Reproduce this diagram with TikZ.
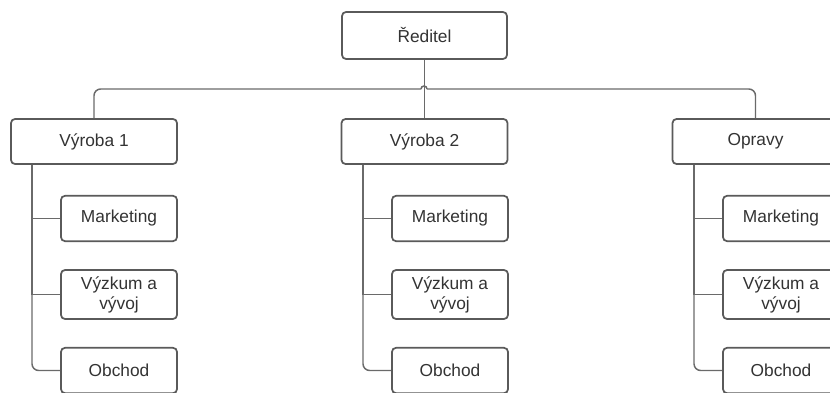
\documentclass[tikz,border=0pt]{standalone}
\usepackage{fontspec}
\setmainfont{Liberation Sans}
\begin{document}
\begin{tikzpicture}[x=0.75pt,y=-0.75pt,
  box/.style={draw=boxgray,line width=1.3pt,rounded corners=3pt,fill=white,
    text=textgray,align=center,inner sep=0pt,
    font=\fontsize{13}{15}\selectfont},
  topbox/.style={box,minimum width=123.75pt,minimum height=35.25pt},
  unitbox/.style={box,minimum width=124.5pt,minimum height=33.75pt},
  subbox/.style={box,minimum width=87pt,minimum height=34pt},
  tallbox/.style={box,minimum width=87pt,minimum height=36.75pt},
  conn/.style={draw=linegray,line width=1.1pt}]
\definecolor{boxgray}{HTML}{5A5A5A}
\definecolor{linegray}{HTML}{6A6A6A}
\definecolor{textgray}{HTML}{333333}
\useasboundingbox (0,0) rectangle (830,392);
\clip (0,0) rectangle (830,392);
\fill[white] (0,0) rectangle (830,392);

% top level and units
\node[topbox]  (dir) at (424.5,35.5) {Ředitel};
\node[unitbox] (v1)  at (94,141.5)   {Výroba 1};
\node[unitbox] (v2)  at (424.5,141.5) {Výroba 2};
\node[unitbox] (op)  at (755.5,141.5) {Opravy};

% departments of each unit
\foreach \c/\x in {a/119,b/450,c/781}{
  \node[subbox]  (m\c) at (\x,218.5) {Marketing};
  \node[tallbox] (r\c) at (\x,294.5) {Výzkum a\\vývoj};
  \node[subbox]  (o\c) at (\x,370.5) {Obchod};
}

% spines on the left side of each unit
\coordinate (sa) at (32,0);
\coordinate (sb) at (363,0);
\coordinate (sc) at (694,0);

% bus from the director to the units, with a hop over the trunk
\coordinate (busL) at (421,89);
\coordinate (busR) at (427,89);
\draw[conn] (dir.south) -- (v2.north);
\draw[conn,rounded corners=5pt] (v1.north) |- (busL);
\draw[conn] (busL) arc[start angle=180,end angle=360,radius=3];
\draw[conn,rounded corners=5pt] (busR) -| (op.north);

% unit to department connectors
\foreach \u/\c in {v1/a,v2/b,op/c}{
  \draw[conn,rounded corners=5pt] (\u.south -| s\c) |- (o\c.west);
  \draw[conn] (\u.south -| s\c) |- (m\c.west);
  \draw[conn] (\u.south -| s\c) |- (r\c.west);
}
\end{tikzpicture}
\end{document}
